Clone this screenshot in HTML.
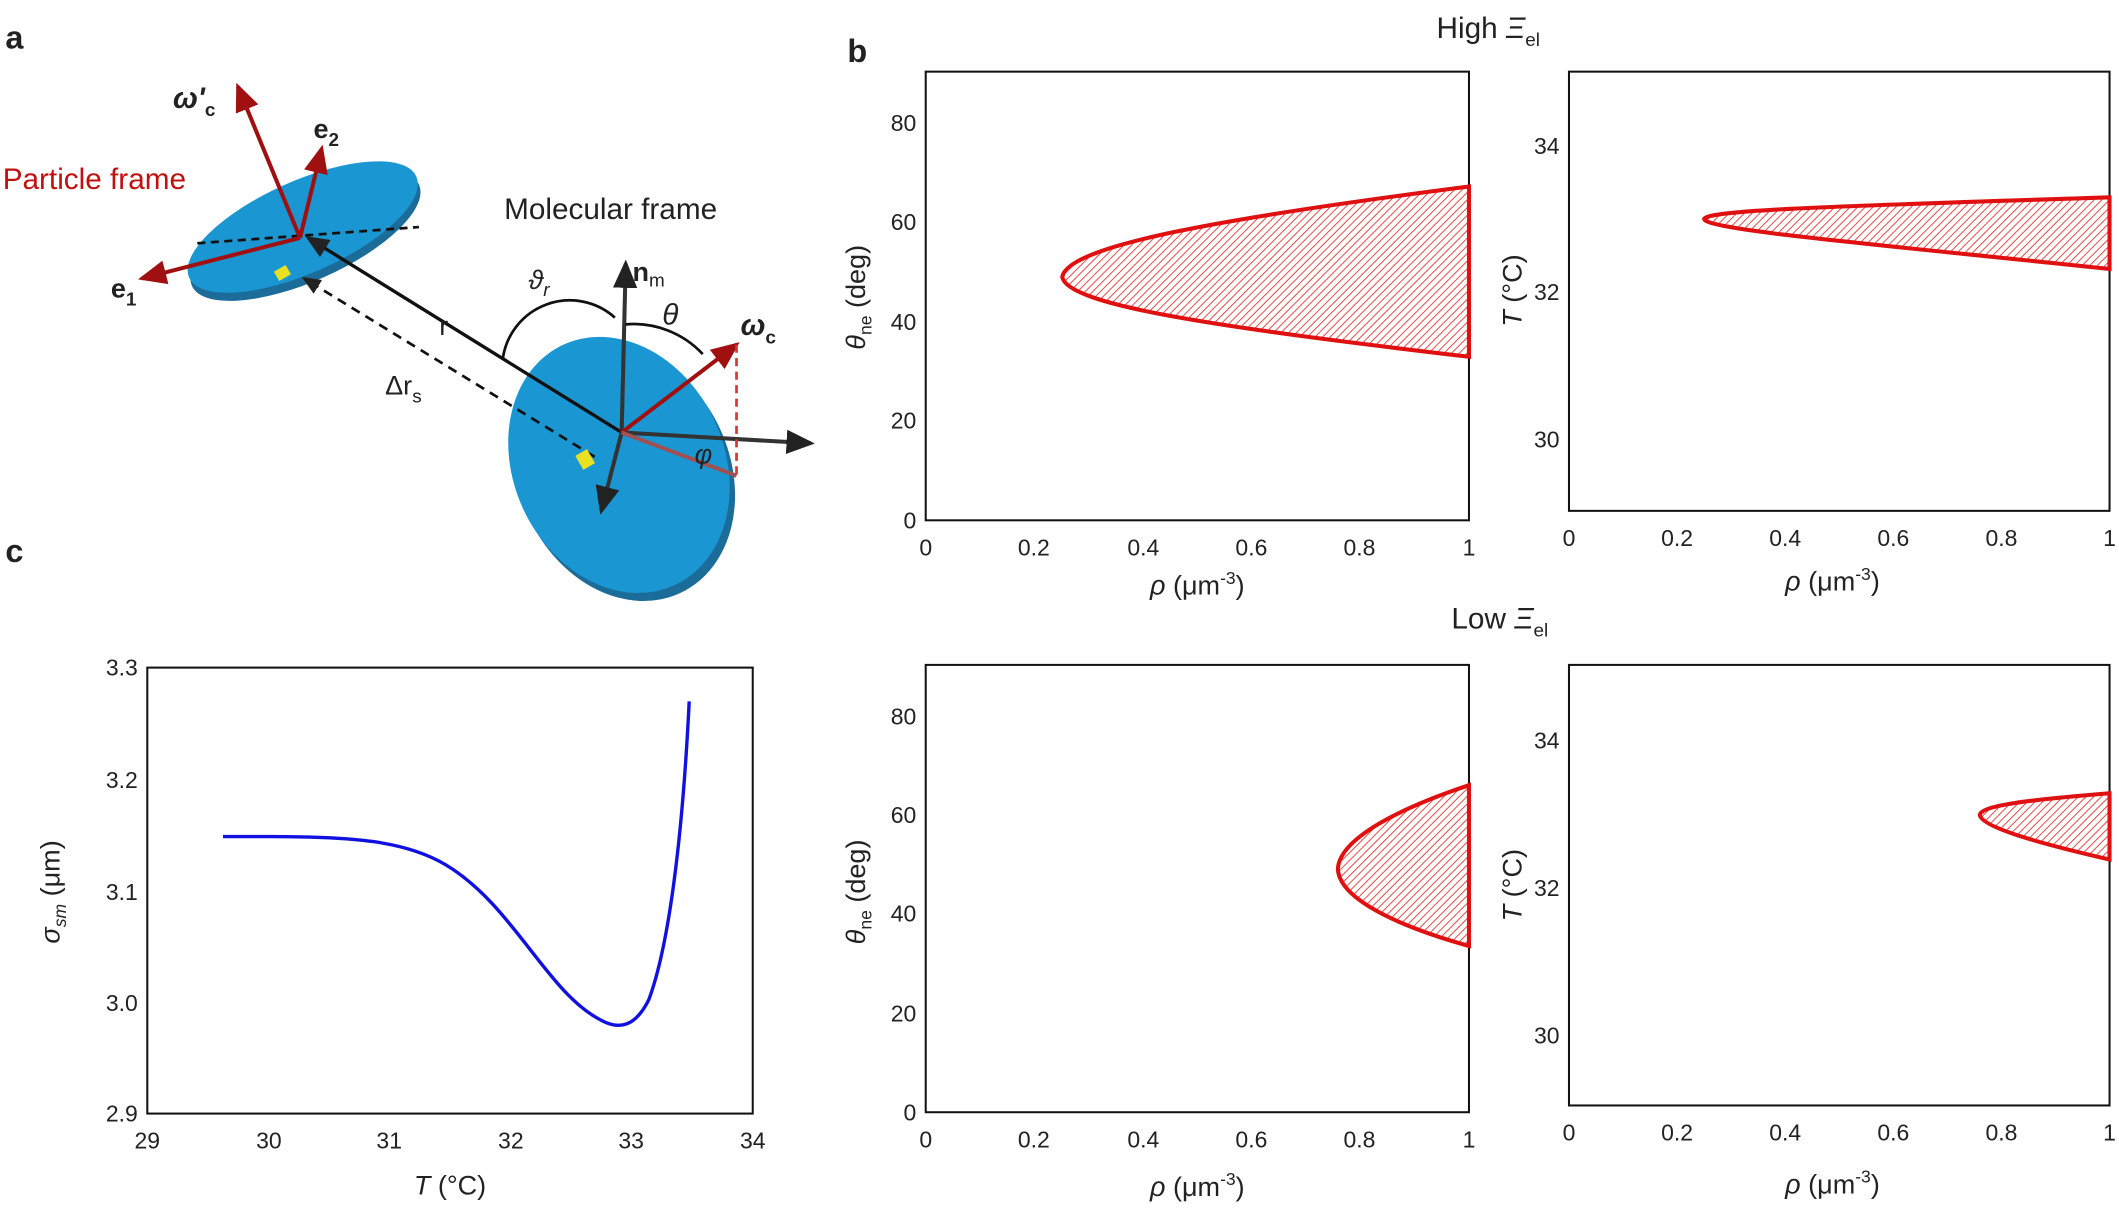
<!DOCTYPE html>
<html><head><meta charset="utf-8"><style>
html,body{margin:0;padding:0;background:#fff}
svg{display:block}
text{font-family:"Liberation Sans",sans-serif;fill:#222}
</style></head><body>
<svg width="2119" height="1219" viewBox="0 0 1568 902" xmlns="http://www.w3.org/2000/svg">
<defs>
<pattern id="h" width="4" height="4" patternUnits="userSpaceOnUse" patternTransform="rotate(45)">
<rect width="4" height="4" fill="#fff"/><line x1="0" y1="0" x2="0" y2="4" stroke="#d33" stroke-width="1.3"/>
</pattern>
<marker id="ab" markerWidth="8" markerHeight="8" refX="6" refY="4" orient="auto"><path d="M0,1 L7,4 L0,7z" fill="#222"/></marker>
<marker id="ar" markerWidth="8" markerHeight="8" refX="6" refY="4" orient="auto"><path d="M0,1 L7,4 L0,7z" fill="#a01010"/></marker>
</defs>
<text x="4" y="36" font-size="24" font-weight="bold">a</text>
<text x="627" y="46" font-size="24" font-weight="bold">b</text>
<text x="4" y="416" font-size="24" font-weight="bold">c</text>
<text x="1063" y="28" font-size="22">High <tspan font-style="italic">Ξ</tspan><tspan font-size="14" dy="6">el</tspan></text>
<text x="1074" y="465" font-size="22">Low <tspan font-style="italic">Ξ</tspan><tspan font-size="14" dy="6">el</tspan></text>

<g>
<ellipse cx="226" cy="174" rx="92" ry="34" transform="rotate(-24 226 174)" fill="#1c6c9a"/>
<ellipse cx="224" cy="168" rx="92" ry="34" transform="rotate(-24 224 168)" fill="#1a96d2"/>
<ellipse cx="462" cy="350" rx="78" ry="98" transform="rotate(-25 462 350)" fill="#1c6c9a"/>
<ellipse cx="458" cy="344" rx="78" ry="98" transform="rotate(-25 458 344)" fill="#1a96d2"/>
<line x1="146" y1="180" x2="310" y2="168" stroke="#111" stroke-width="2" stroke-dasharray="6,4"/>
<line x1="460" y1="320" x2="228" y2="176" stroke="#111" stroke-width="2.5" marker-end="url(#ab)"/>
<line x1="440" y1="338" x2="225" y2="206" stroke="#111" stroke-width="2" stroke-dasharray="7,5" marker-end="url(#ab)"/>
<rect x="204" y="198" width="10" height="8" fill="#e8e020" transform="rotate(-30 209 202)"/>
<rect x="428" y="334" width="10" height="12" fill="#e8e020" transform="rotate(-30 433 340)"/>
<line x1="222" y1="176" x2="105" y2="206" stroke="#a01010" stroke-width="3" marker-end="url(#ar)"/>
<line x1="222" y1="176" x2="238" y2="110" stroke="#a01010" stroke-width="3" marker-end="url(#ar)"/>
<line x1="222" y1="176" x2="176" y2="64" stroke="#a01010" stroke-width="3" marker-end="url(#ar)"/>
<line x1="460" y1="320" x2="463" y2="195" stroke="#333" stroke-width="3" marker-end="url(#ab)"/>
<line x1="460" y1="320" x2="600" y2="328" stroke="#333" stroke-width="3" marker-end="url(#ab)"/>
<line x1="460" y1="320" x2="445" y2="378" stroke="#333" stroke-width="3" marker-end="url(#ab)"/>
<line x1="460" y1="320" x2="545" y2="255" stroke="#a01010" stroke-width="3" marker-end="url(#ar)"/>
<line x1="460" y1="320" x2="545" y2="352" stroke="#a05050" stroke-width="3"/>
<line x1="545" y1="255" x2="545" y2="352" stroke="#d33" stroke-width="2" stroke-dasharray="6,4"/>
<path d="M372 266 A50 50 0 0 1 455 235" fill="none" stroke="#111" stroke-width="2"/>
<path d="M463 240 A70 70 0 0 1 520 262" fill="none" stroke="#111" stroke-width="2"/>
<text x="2" y="140" font-size="22" style="fill:#c01010">Particle frame</text>
<text x="373" y="162" font-size="22">Molecular frame</text>
<text x="128" y="80" font-size="22" font-weight="bold" font-style="italic">ω'<tspan font-size="14" dy="6" font-style="normal">c</tspan></text>
<text x="232" y="102" font-size="20" font-weight="bold">e<tspan font-size="14" dy="6">2</tspan></text>
<text x="82" y="220" font-size="20" font-weight="bold">e<tspan font-size="14" dy="6">1</tspan></text>
<text x="468" y="208" font-size="20" font-weight="bold" font-family="Liberation Serif">n<tspan font-size="14" dy="4" font-weight="normal">m</tspan></text>
<text x="391" y="214" font-size="20" font-style="italic" font-family="Liberation Serif">ϑ<tspan font-size="14" dy="5">r</tspan></text>
<text x="490" y="240" font-size="22" font-style="italic">θ</text>
<text x="548" y="248" font-size="22" font-weight="bold" font-style="italic">ω<tspan font-size="14" dy="6" font-style="normal">c</tspan></text>
<text x="325" y="248" font-size="20">r</text>
<text x="285" y="292" font-size="20">Δr<tspan font-size="14" dy="6">s</tspan></text>
<text x="514" y="343" font-size="20" font-style="italic">φ</text>
</g>

<g font-size="17">
<rect x="685" y="53" width="402" height="332" fill="none" stroke="#111" stroke-width="1.5"/>
<path d="M1087 138 C900 162 790 182 786 205 C790 226 900 242 1087 264 Z" fill="url(#h)" stroke="#e01010" stroke-width="3"/>
<g text-anchor="end"><text x="678" y="391">0</text><text x="678" y="317">20</text><text x="678" y="244">40</text><text x="678" y="170">60</text><text x="678" y="97">80</text></g>
<g text-anchor="middle"><text x="685" y="411">0</text><text x="765" y="411">0.2</text><text x="846" y="411">0.4</text><text x="926" y="411">0.6</text><text x="1006" y="411">0.8</text><text x="1087" y="411">1</text>
<text x="886" y="440" font-size="20"><tspan font-style="italic">ρ</tspan> (μm<tspan font-size="13" dy="-8">-3</tspan><tspan dy="8">)</tspan></text></g>
<text transform="translate(640 220) rotate(-90)" text-anchor="middle" font-size="20"><tspan font-style="italic">θ</tspan><tspan font-size="13" dy="5">ne</tspan><tspan dy="-5"> (deg)</tspan></text>
</g>
<g font-size="17">
<rect x="1161" y="53" width="400" height="325" fill="none" stroke="#111" stroke-width="1.5"/>
<path d="M1561 146 C1380 152 1262 155 1261 162 C1262 170 1380 180 1561 199 Z" fill="url(#h)" stroke="#e01010" stroke-width="3"/>
<g text-anchor="end"><text x="1154" y="114">34</text><text x="1154" y="222">32</text><text x="1154" y="331">30</text></g>
<g text-anchor="middle"><text x="1161" y="404">0</text><text x="1241" y="404">0.2</text><text x="1321" y="404">0.4</text><text x="1401" y="404">0.6</text><text x="1481" y="404">0.8</text><text x="1561" y="404">1</text>
<text x="1356" y="437" font-size="20"><tspan font-style="italic">ρ</tspan> (μm<tspan font-size="13" dy="-8">-3</tspan><tspan dy="8">)</tspan></text></g>
<text transform="translate(1126 215) rotate(-90)" text-anchor="middle" font-size="20"><tspan font-style="italic">T</tspan> (°C)</text>
</g>
<g font-size="17">
<rect x="685" y="492" width="402" height="331" fill="none" stroke="#111" stroke-width="1.5"/>
<path d="M1087 581 C1030 600 991 622 990 643 C991 664 1030 684 1087 700 Z" fill="url(#h)" stroke="#e01010" stroke-width="3"/>
<g text-anchor="end"><text x="678" y="829">0</text><text x="678" y="756">20</text><text x="678" y="682">40</text><text x="678" y="609">60</text><text x="678" y="536">80</text></g>
<g text-anchor="middle"><text x="685" y="849">0</text><text x="765" y="849">0.2</text><text x="846" y="849">0.4</text><text x="926" y="849">0.6</text><text x="1006" y="849">0.8</text><text x="1087" y="849">1</text>
<text x="886" y="885" font-size="20"><tspan font-style="italic">ρ</tspan> (μm<tspan font-size="13" dy="-8">-3</tspan><tspan dy="8">)</tspan></text></g>
<text transform="translate(640 660) rotate(-90)" text-anchor="middle" font-size="20"><tspan font-style="italic">θ</tspan><tspan font-size="13" dy="5">ne</tspan><tspan dy="-5"> (deg)</tspan></text>
</g>
<g font-size="17">
<rect x="1161" y="492" width="400" height="326" fill="none" stroke="#111" stroke-width="1.5"/>
<path d="M1561 587 C1500 592 1466 596 1465 603 C1466 611 1500 622 1561 636 Z" fill="url(#h)" stroke="#e01010" stroke-width="3"/>
<g text-anchor="end"><text x="1154" y="554">34</text><text x="1154" y="663">32</text><text x="1154" y="772">30</text></g>
<g text-anchor="middle"><text x="1161" y="844">0</text><text x="1241" y="844">0.2</text><text x="1321" y="844">0.4</text><text x="1401" y="844">0.6</text><text x="1481" y="844">0.8</text><text x="1561" y="844">1</text>
<text x="1356" y="883" font-size="20"><tspan font-style="italic">ρ</tspan> (μm<tspan font-size="13" dy="-8">-3</tspan><tspan dy="8">)</tspan></text></g>
<text transform="translate(1126 655) rotate(-90)" text-anchor="middle" font-size="20"><tspan font-style="italic">T</tspan> (°C)</text>
</g>
<g font-size="17">
<rect x="109" y="494" width="448" height="330" fill="none" stroke="#111" stroke-width="1.5"/>
<path d="M165 619 L200 619 C260 619 300 622 330 640 C380 670 405 735 445 755 C458 762 470 760 480 740 C495 700 505 620 510 519" fill="none" stroke="#1010e0" stroke-width="2.5"/>
<g text-anchor="end"><text x="102" y="500">3.3</text><text x="102" y="583">3.2</text><text x="102" y="666">3.1</text><text x="102" y="748">3.0</text><text x="102" y="830">2.9</text></g>
<g text-anchor="middle"><text x="109" y="850">29</text><text x="199" y="850">30</text><text x="288" y="850">31</text><text x="378" y="850">32</text><text x="467" y="850">33</text><text x="557" y="850">34</text>
<text x="333" y="884" font-size="20"><tspan font-style="italic">T</tspan> (°C)</text></g>
<text transform="translate(44 660) rotate(-90)" text-anchor="middle" font-size="20"><tspan font-style="italic">σ<tspan font-size="13" dy="5">sm</tspan></tspan><tspan dy="-5"> (μm)</tspan></text>
</g>
</svg>
</body></html>
